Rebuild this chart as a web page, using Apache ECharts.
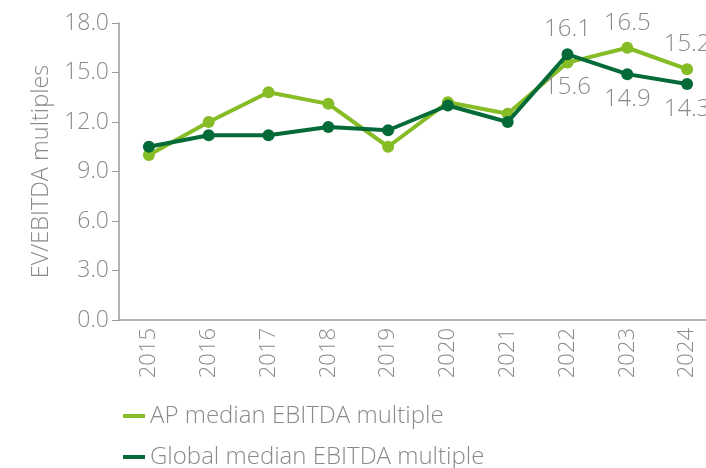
<!DOCTYPE html>
<html>
<head>
<meta charset="utf-8">
<script src="https://cdn.jsdelivr.net/npm/echarts@6/dist/echarts.min.js"></script>
<style>
html, body { margin: 0; padding: 0; background: #fff; }
#main { width: 706px; height: 468px; }
</style>
</head>
<body>
<div id="main"></div>
<script>
// years on the x axis
const years = ['2015', '2016', '2017', '2018', '2019', '2020', '2021', '2022', '2023', '2024'];
// AP median EBITDA multiple
const apValues = [10.0, 12.0, 13.8, 13.1, 10.5, 13.2, 12.5, 15.6, 16.5, 15.2];
// Global median EBITDA multiple
const globalValues = [10.5, 11.2, 11.2, 11.7, 11.5, 13.0, 12.0, 16.1, 14.9, 14.3];
const seriesNames = ['AP median EBITDA multiple', 'Global median EBITDA multiple'];
// only the last three years carry labels
const labelFrom = 7;
const apLabelPos = ['top', 'top', 'top', 'top', 'top', 'top', 'top', 'bottom', 'top', 'top'];
const globalLabelPos = ['top', 'top', 'top', 'top', 'top', 'top', 'top', 'top', 'bottom', 'bottom'];

const grey = '#8a8a8a';
const font = 'Open Sans';

function buildData(values, positions) {
    return values.map(function (v, i) {
        return {
            value: v,
            label: {
                show: i >= labelFrom,
                position: positions[i]
            }
        };
    });
}

function legendItem(name, top) {
    return {
        left: 118,
        top: top,
        itemWidth: 22,
        itemHeight: 4,
        icon: 'rect',
        data: [name],
        textStyle: { color: grey, fontSize: 24, fontFamily: font, fontWeight: 300 }
    };
}

let chart = echarts.init(document.getElementById('main'));
let option = {
    animation: false,
    textStyle: { fontFamily: font },
    // plot area runs a little past the right edge, like the original
    grid: { left: 119, width: 598, top: 23, bottom: 148, containLabel: false, outerBoundsMode: 'none' },
    legend: [
        legendItem(seriesNames[0], 399),
        legendItem(seriesNames[1], 440)
    ],
    xAxis: {
        type: 'category',
        data: years,
        boundaryGap: true,
        axisLine: { lineStyle: { color: '#999', width: 1.5 } },
        axisTick: { show: false },
        axisLabel: {
            rotate: 90,
            color: grey,
            fontSize: 22,
            fontFamily: font,
            fontWeight: 300,
            margin: 8
        }
    },
    yAxis: {
        type: 'value',
        min: 0,
        max: 18,
        interval: 3,
        name: 'EV/EBITDA multiples',
        nameLocation: 'middle',
        nameGap: 64,
        nameTextStyle: { color: grey, fontSize: 23.5, fontFamily: font, fontWeight: 300 },
        splitLine: { show: false },
        axisLine: { show: true, lineStyle: { color: '#999', width: 1.5 } },
        axisTick: { show: true, length: 7, lineStyle: { color: '#999' } },
        axisLabel: {
            color: grey,
            fontSize: 23,
            fontFamily: font,
            fontWeight: 300,
            margin: 10,
            formatter: function (v) { return v.toFixed(1); }
        }
    },
    series: [
        {
            name: seriesNames[0],
            type: 'line',
            data: buildData(apValues, apLabelPos),
            symbol: 'circle',
            symbolSize: 12,
            lineStyle: { width: 4, color: '#86bc25' },
            itemStyle: { color: '#86bc25' },
            label: { color: grey, fontSize: 24, fontFamily: font, fontWeight: 300, distance: 7 },
            z: 2
        },
        {
            name: seriesNames[1],
            type: 'line',
            data: buildData(globalValues, globalLabelPos),
            symbol: 'circle',
            symbolSize: 12,
            lineStyle: { width: 4, color: '#046a38' },
            itemStyle: { color: '#046a38' },
            label: { color: grey, fontSize: 24, fontFamily: font, fontWeight: 300, distance: 7 },
            z: 3
        }
    ]
};
chart.setOption(option);
</script>
</body>
</html>
